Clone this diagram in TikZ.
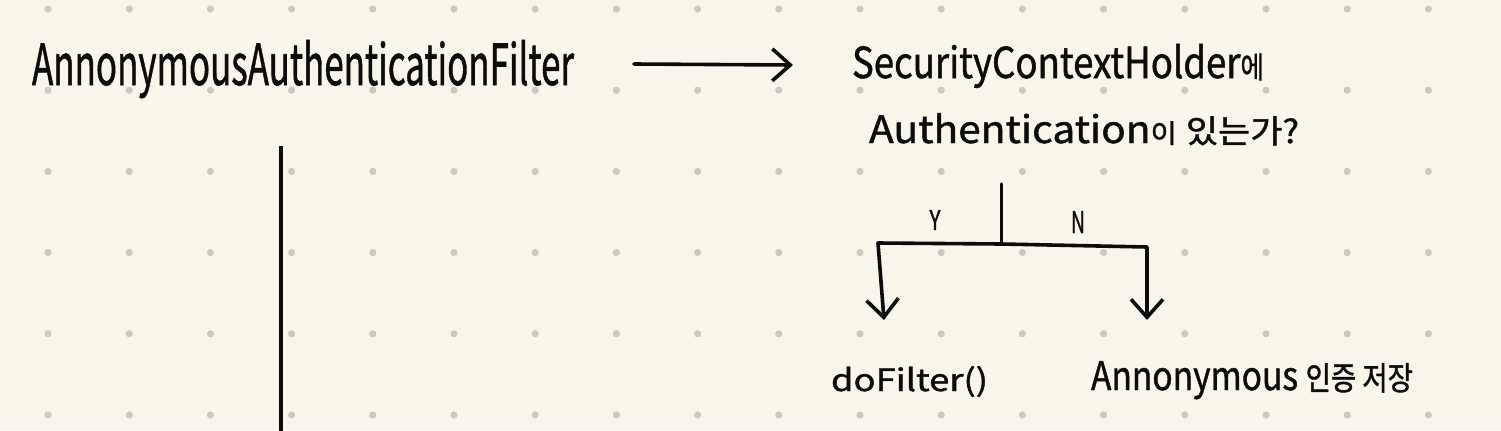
\documentclass[tikz,border=0pt]{standalone}
\usepackage{fontspec}
\setmainfont{Noto Sans CJK KR}[FakeBold=1.2]
\usetikzlibrary{arrows.meta}
\definecolor{paper}{RGB}{248,246,235}
\definecolor{griddot}{RGB}{202,201,194}
\definecolor{ink}{RGB}{12,12,12}
\newcommand{\hw}[3]{\resizebox{#1}{#2}{#3}}
\newcommand{\ko}[2]{\scalebox{#1}{#2}}
\tikzset{
  hand/.style={inner sep=0pt, outer sep=0pt, anchor=base west, text=ink},
  yn/.style={inner sep=0pt, outer sep=0pt, anchor=center, text=ink},
  stroke/.style={draw=ink, line width=1.8pt, line cap=round, line join=round},
  flow/.style={stroke, -{Straight Barb[length=9pt,width=16pt,line width=1.8pt]}},
  dot/.style={fill=griddot, draw=none}
}
\begin{document}
\begin{tikzpicture}[x=0.5pt,y=-0.5pt]
\useasboundingbox (0,0) rectangle (1501,430);
\fill[paper] (0,0) rectangle (1501,430);
% dot grid
\foreach \i in {0,...,17}{
  \foreach \j in {0,...,5}{
    \fill[dot] ({48+81.2*\i},{9+81.2*\j}) circle[radius=3.6];
  }
}
% texts
\node[hand] (filter) at (32,85) {\hw{271pt}{22.5pt}{AnnonymousAuthenticationFilter}};
\node[hand] (holder) at (852,78) {\hw{206pt}{17pt}{SecurityContextHolder\ko{0.7}{에}}};
\node[hand] (auth) at (869,143) {\hw{215pt}{15pt}{Authentication\ko{0.7}{이} \ko{0.86}{있는가?}}};
\node[hand] (dofilter) at (831,391) {\hw{78.5pt}{12.5pt}{doFilter()}};
\node[hand] (anon) at (1091,390) {\hw{161pt}{14.5pt}{Annonymous \ko{0.82}{인증 저장}}};
\node[yn] (ylab) at (935,220) {\hw{5.5pt}{10pt}{Y}};
\node[yn] (nlab) at (1078,222) {\hw{7pt}{11pt}{N}};
% connector coordinates
\coordinate (arrowstart) at (634,64);
\coordinate (arrowend) at (793,65);
\coordinate (stemtop) at (1001.5,184);
\coordinate (split) at (1001.5,244);
\coordinate (leftcorner) at (878,243);
\coordinate (rightcorner) at (1147,247);
\coordinate (lefttip) at (884,320);
\coordinate (righttip) at (1147,320);
\coordinate (linetop) at (281,146);
\coordinate (linebottom) at (281,432);
% connectors
\draw[flow] (arrowstart) -- (arrowend);
\draw[stroke] (stemtop) -- (split);
\draw[flow] (split) -- (leftcorner) -- (lefttip);
\draw[flow] (split) -- (rightcorner) -- (righttip);
\draw[stroke, line width=2pt, line cap=butt] (linetop) -- (linebottom);
\end{tikzpicture}
\end{document}
